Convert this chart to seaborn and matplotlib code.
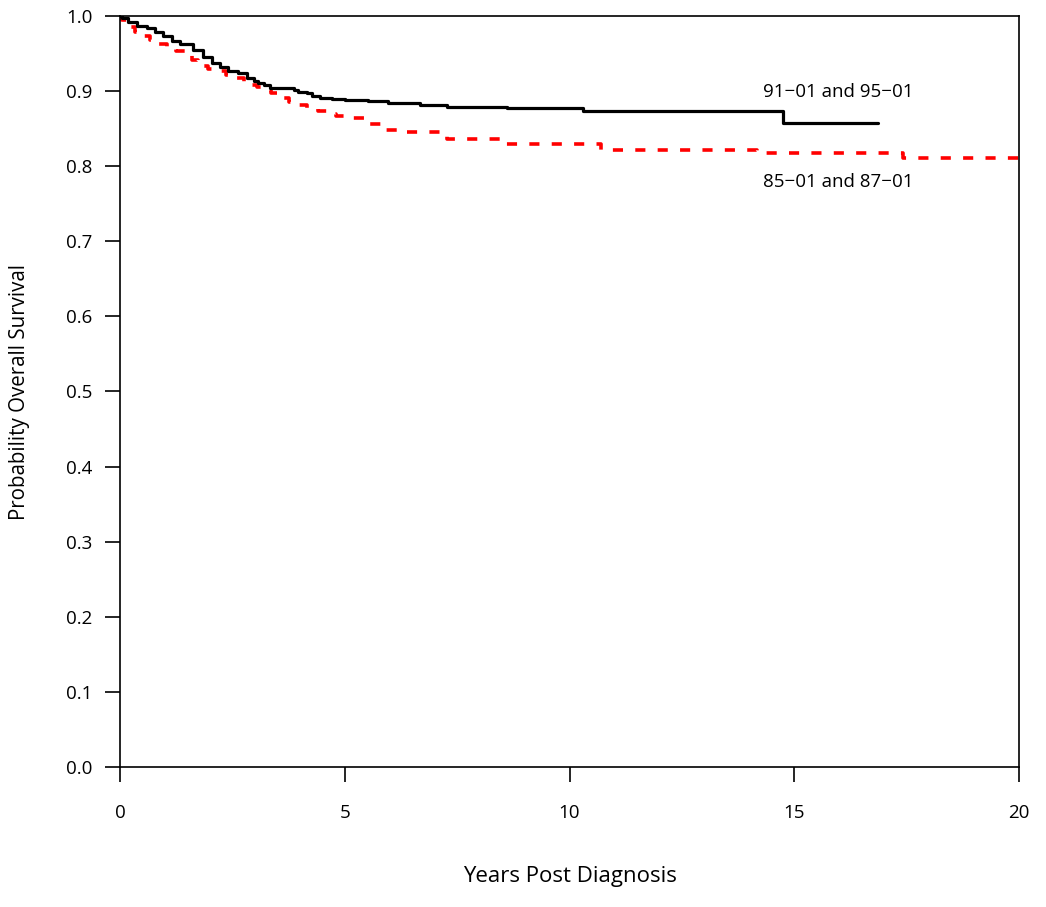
import numpy as np
import pandas as pd
import matplotlib
matplotlib.use("Agg")
import matplotlib.pyplot as plt
import seaborn as sns

# Survival step data
times_a = [0, 0.04, 0.18, 0.37, 0.59, 0.78, 0.96, 1.15, 1.33, 1.62, 1.85, 2.04, 2.22,
           2.41, 2.63, 2.82, 2.97, 3.08, 3.2, 3.34, 3.88, 3.95, 4.16, 4.27, 4.45, 4.71,
           5.0, 5.52, 5.97, 6.67, 7.27, 8.6, 10.3, 14.74, 16.87]
surv_a = [1.0, 0.998, 0.992, 0.987, 0.984, 0.979, 0.973, 0.967, 0.963, 0.955, 0.946,
          0.937, 0.932, 0.927, 0.924, 0.918, 0.914, 0.911, 0.908, 0.904, 0.902, 0.899,
          0.897, 0.894, 0.891, 0.889, 0.888, 0.887, 0.884, 0.882, 0.879, 0.877, 0.874,
          0.857, 0.857]

times_b = [0, 0.05, 0.2, 0.33, 0.5, 0.67, 0.85, 1.04, 1.25, 1.45, 1.6, 1.74, 1.95, 2.15,
           2.35, 2.56, 2.75, 2.93, 3.05, 3.2, 3.37, 3.55, 3.75, 3.95, 4.16, 4.4, 4.6,
           4.8, 5.04, 5.45, 5.9, 6.3, 7.27, 8.45, 10.7, 14.17, 17.42, 20.0]
surv_b = [1.0, 0.995, 0.985, 0.979, 0.973, 0.968, 0.963, 0.958, 0.953, 0.949, 0.941,
          0.933, 0.930, 0.927, 0.922, 0.917, 0.912, 0.908, 0.905, 0.901, 0.897, 0.891,
          0.886, 0.881, 0.877, 0.873, 0.870, 0.867, 0.864, 0.856, 0.848, 0.846, 0.836,
          0.8296, 0.821, 0.817, 0.811, 0.811]

label_a = "91\u221201 and 95\u221201"
label_b = "85\u221201 and 87\u221201"

x_ticks = [0, 5, 10, 15, 20]
y_ticks = [0.0, 0.1, 0.2, 0.3, 0.4, 0.5, 0.6, 0.7, 0.8, 0.9, 1.0]

sns.set_theme(style="white")
plt.rcParams['font.family'] = ['Open Sans', 'DejaVu Sans']

df_a = pd.DataFrame({"t": times_a, "s": surv_a})
df_b = pd.DataFrame({"t": times_b, "s": surv_b})

fig = plt.figure(figsize=(10.46, 9.07), dpi=100)
ax = fig.add_axes([120/1046, 140/907, (1019-120)/1046, (767-16)/907])

sns.lineplot(data=df_b, x="t", y="s", ax=ax, color="#ff0000", linewidth=2.6,
             drawstyle="steps-post", estimator=None, sort=False,
             linestyle=(0, (2.8, 3.4)))
sns.lineplot(data=df_a, x="t", y="s", ax=ax, color="black", linewidth=2.3,
             drawstyle="steps-post", estimator=None, sort=False)

ax.set_xlim(0, 20)
ax.set_ylim(0, 1.0)
ax.set_xticks(x_ticks)
ax.set_xticklabels([str(v) for v in x_ticks])
ax.set_yticks(y_ticks)
ax.set_yticklabels([f"{v:.1f}" for v in y_ticks])

for sp in ax.spines.values():
    sp.set_visible(True)
    sp.set_color("black")
    sp.set_linewidth(1.2)

ax.tick_params(axis="both", direction="out", length=11, width=1.2, color="black",
               labelsize=13.5, labelcolor="black", bottom=True, left=True)
ax.tick_params(axis="x", pad=16)
ax.tick_params(axis="y", pad=9)

ax.set_xlabel("Years Post Diagnosis", fontsize=16, color="black", labelpad=31)
ax.set_ylabel("Probability Overall Survival", fontsize=14.8, color="black", labelpad=26)

ax.text(15.97, 0.899, label_a, fontsize=13.5, ha="center", va="center", color="black")
ax.text(15.97, 0.779, label_b, fontsize=13.5, ha="center", va="center", color="black")

fig.savefig("out.png", dpi=100, facecolor="white")
